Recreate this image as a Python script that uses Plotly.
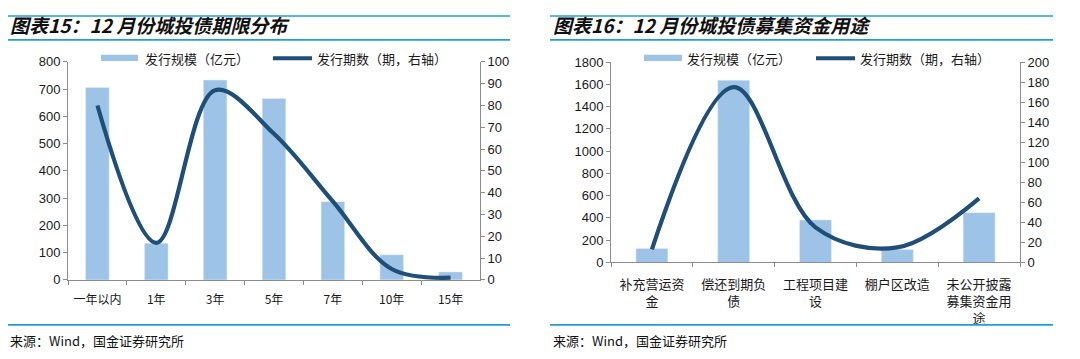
import plotly.graph_objects as go

# page body has an 8px margin: draw a 1064x343 figure and map reference pixels by -8
OFF = 8
W, H = 1080 - 2 * OFF, 359 - 2 * OFF

# ---- Data ----
term_cats = ["一年以内", "1年", "3年", "5年", "7年", "10年", "15年"]
term_amount = [706, 134, 733, 666, 287, 92, 29]      # 发行规模（亿元）
term_count = [80, 17, 87, 67, 36, 5, 1]              # 发行期数（期，右轴）

use_cats = ["补充营运资<br>金", "偿还到期负<br>债", "工程项目建<br>设", "棚户区改造", "未公开披露<br>募集资金用<br>途"]
use_amount = [125, 1637, 382, 115, 447]
use_count = [13, 175, 35, 15, 64]

titles = ["图表15：12 月份城投债期限分布", "图表16：12 月份城投债募集资金用途"]
legend_bar = "发行规模（亿元）"
legend_line = "发行期数（期，右轴）"
source = "来源：Wind，国金证券研究所"

BAR = "#9DC3E6"
LINE = "#1F4E79"
ACCENT = "#1E9FD9"
AXIS = "#8C8C8C"
TXT = "#1a1a1a"
NUM_FONT = "Liberation Sans, Arial, sans-serif"
CJK = "Noto Sans CJK SC, sans-serif"


def px(x):
    return (x - OFF) / W


def py(y):
    return 1 - (y - OFF) / H


fig = go.Figure()

fig.add_trace(go.Bar(x=term_cats, y=term_amount, marker_color=BAR, width=0.4,
                     xaxis="x", yaxis="y", showlegend=False))
fig.add_trace(go.Scatter(x=term_cats, y=term_count, mode="lines",
                         line=dict(color=LINE, width=4.2, shape="spline", smoothing=1.0),
                         xaxis="x", yaxis="y2", showlegend=False))
fig.add_trace(go.Bar(x=use_cats, y=use_amount, marker_color=BAR, width=0.39,
                     xaxis="x2", yaxis="y3", showlegend=False))
fig.add_trace(go.Scatter(x=use_cats, y=use_count, mode="lines",
                         line=dict(color=LINE, width=4.2, shape="spline", smoothing=1.0),
                         xaxis="x2", yaxis="y4", showlegend=False))

num_tick = dict(family=NUM_FONT, size=13, color=TXT)
common_y = dict(showgrid=False, zeroline=False, showline=True, linecolor=AXIS, linewidth=1,
                ticks="outside", ticklen=4, tickcolor=AXIS, tickfont=num_tick)
common_x = dict(showgrid=False, zeroline=False, showline=True, linecolor=AXIS, linewidth=1,
                ticks="outside", ticklen=4, tickcolor=AXIS, tickson="boundaries",
                type="category", tickangle=0)

fig.update_layout(
    width=W, height=H, margin=dict(l=0, r=0, t=0, b=0),
    paper_bgcolor="white", plot_bgcolor="white",
    xaxis=dict(domain=[px(68), px(480)], anchor="y", ticklabelstandoff=9,
               tickfont=dict(family=CJK, size=12, color=TXT), **common_x),
    yaxis=dict(domain=[py(285), py(57)], anchor="x", range=[0, 800], dtick=100, **common_y),
    yaxis2=dict(overlaying="y", side="right", anchor="x", range=[0, 100], dtick=10, **common_y),
    xaxis2=dict(domain=[px(611), px(1020)], anchor="y3", ticklabelstandoff=10,
                tickfont=dict(family=CJK, size=13, color=TXT), **common_x),
    yaxis3=dict(domain=[py(266.7), py(57.3)], anchor="x2", range=[0, 1800], dtick=200, **common_y),
    yaxis4=dict(overlaying="y3", side="right", anchor="x2", range=[0, 200], dtick=20, **common_y),
)

shapes = []
annotations = []

panels = [
    dict(x0=8, x1=510, title_x=8, bar_sw=(101, 138), bar_txt=143, line_sw=(273, 312), line_txt=315),
    dict(x0=550, x1=1053, title_x=551, bar_sw=(644, 682), bar_txt=685, line_sw=(816, 855), line_txt=858),
]
for i, p in enumerate(panels):
    for yy in (9, 34, 332):
        shapes.append(dict(type="line", xref="paper", yref="paper",
                           x0=px(p["x0"]), x1=px(p["x1"]), y0=py(yy), y1=py(yy),
                           line=dict(color=ACCENT, width=1.6)))
    annotations.append(dict(xref="paper", yref="paper", x=px(p["title_x"]), y=py(18),
                            xanchor="left", yanchor="middle", showarrow=False,
                            text="<b><i>" + titles[i] + "</i></b>",
                            font=dict(family=CJK, size=19, color="#111")))
    annotations.append(dict(xref="paper", yref="paper", x=px(p["title_x"]), y=py(348),
                            xanchor="left", yanchor="middle", showarrow=False,
                            text=source, font=dict(family=CJK, size=13, color="#111")))
    # legend
    shapes.append(dict(type="rect", xref="paper", yref="paper",
                       x0=px(p["bar_sw"][0]), x1=px(p["bar_sw"][1]), y0=py(56), y1=py(49.5),
                       fillcolor=BAR, line=dict(width=0)))
    shapes.append(dict(type="line", xref="paper", yref="paper",
                       x0=px(p["line_sw"][0]), x1=px(p["line_sw"][1]), y0=py(53.3), y1=py(53.3),
                       line=dict(color=LINE, width=4)))
    annotations.append(dict(xref="paper", yref="paper", x=px(p["bar_txt"]), y=py(53),
                            xanchor="left", yanchor="middle", showarrow=False,
                            text=legend_bar, font=dict(family=CJK, size=13, color=TXT)))
    annotations.append(dict(xref="paper", yref="paper", x=px(p["line_txt"]), y=py(53),
                            xanchor="left", yanchor="middle", showarrow=False,
                            text=legend_line, font=dict(family=CJK, size=13, color=TXT)))

fig.update_layout(shapes=shapes, annotations=annotations)
fig.write_html("out.html")
